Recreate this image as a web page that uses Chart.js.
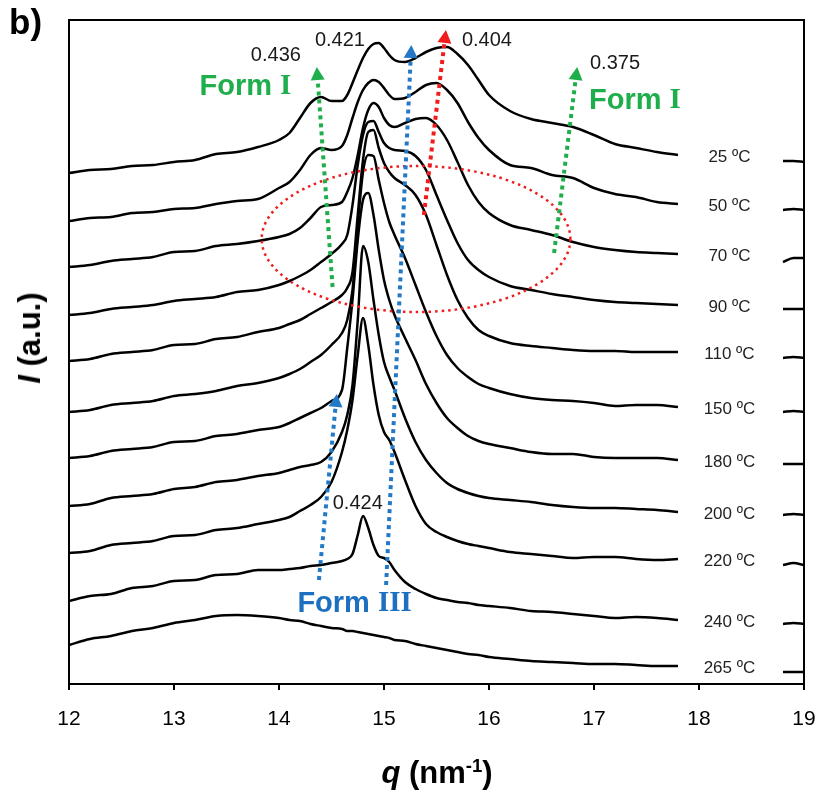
<!DOCTYPE html>
<html>
<head>
<meta charset="utf-8">
<script src="https://cdn.jsdelivr.net/npm/chart.js@4"></script>
<style>
  body { margin: 0; background: #fff; }
  #wrap { position: relative; width: 822px; height: 794px; }
  .t { position: absolute; font-family: Arial, "Liberation Sans", sans-serif; font-weight: bold; color: #000; white-space: nowrap; }
  #panel { left: 9px; top: 2px; font-size: 35px; }
  #xt { left: 337px; width: 200px; top: 755px; font-size: 31px; text-align: center; }
  #yt { left: 30px; top: 338px; font-size: 31px; transform: translate(-50%, -50%) rotate(-90deg); }
  sup { font-size: 60%; line-height: 0; }
</style>
</head>
<body>
<div id="wrap">
  <canvas id="c" width="822" height="794"></canvas>
  <div class="t" id="panel">b)</div>
  <div class="t" id="xt"><i>q</i> (nm<sup>-1</sup>)</div>
  <div class="t" id="yt"><i>I</i> (a.u.)</div>
</div>
<script>
// q grid (nm-1); null at 18.3 = hidden behind the label box
const q = [12.0,12.2,12.4,12.6,12.8,13.0,13.2,13.4,13.6,13.8,14.0,
  14.1,14.2,14.3,14.4,14.5,14.6,
  14.65,14.7,14.75,14.8,14.85,14.9,14.95,15.0,15.05,15.1,
  15.2,15.3,15.4,15.5,15.6,15.7,15.8,15.9,16.0,
  16.2,16.4,16.6,16.8,17.0,17.2,17.4,17.6,17.8,
  18.3,18.8,18.9,19.0];

// stacked intensities (a.u.), one per temperature
const i25 = [511,514,515,518,519,522,524,530,532,537, 544, 551,566,581,587,583,583, 589,601,614,626,635,640,641,636,629,624, 622,626,632,636,637,630,619,604,589, 573,565,561,557,549,540,536,532,529, null, 523,523,522];
const i50 = [463,466,467,471,472,475,476,480,483,485, 496, 502,514,529,536,534,538, 549,566,582,594,601,604,602,596,589,585, 586,592,599,601,594,581,562,546,534, 519,516,509,506,496,490,487,482,480, null, 474,475,474];
const i70 = [417,419,423,425,427,432,433,438,440,443, 447, 450,456,466,477,479,482, 492,506,529,556,574,581,577,566,559,557, 561,565,566,559,544,522,499,482,471, 459,454,449,442,437,434,432,431,430, null, 422,426,426];
const i90 = [369,371,375,377,379,383,385,387,392,394, 399, 403,408,414,422,430,440, 449,479,519,549,562,563,552,541,536,534, 533,528,514,489,464,441,424,414,407, 398,394,390,387,384,382,381,380,379, null, 375,375,375];
const i110 = [323,325,330,332,334,339,340,345,347,352, 356, 360,364,370,376,382,389, 396,412,469,524,552,554,536,521,512,506, 499,489,469,439,409,384,366,354,348, 341,338,336,334,333,333,332,332,332, null, 326,327,326];
const i150 = [272,274,279,281,283,288,290,293,298,301, 306, 310,315,322,329,339,351, 364,394,459,512,529,528,504,481,462,449, 426,399,372,348,329,316,307,300,296, 290,286,284,283,281,278,279,279,277, null, 272,273,272];
const i180 = [226,228,233,235,237,242,243,248,250,254, 257, 261,266,271,276,283,294, 336,384,444,484,491,469,434,404,384,369, 346,324,300,281,266,256,248,243,240, 236,232,230,230,227,226,226,226,224, null, 220,220,220];
const i200 = [178,180,186,188,190,195,197,202,204,208, 211, 214,217,219,222,232,252, 269,299,364,438,422,384,349,322,307,294, 266,242,224,211,201,195,191,188,186, 184,182,179,177,176,176,175,174,172, null, 169,170,169];
const i220 = [131,133,139,141,143,148,149,154,156,160, 164, 167,173,179,187,202,232, 254,284,329,366,339,299,269,252,244,232, 204,178,160,152,147,143,140,138,136, 132,130,128,126,127,127,125,124,125, null, 119,121,119];
const i240 = [83,88,90,96,98,103,104,109,110,114, 114, 115,116,118,119,121,123, 125,130,149,168,156,139,128,126,122,114, 102,95,90,86,84,82,81,79,78, 76,73,72,70,68,66,67,66,64, null, 60,61,60];
const i265 = [39,45,48,53,56,61,64,68,69,68, 66, 64,63,60,58,56,55, 53,53,52,51,50,49,48,47,46,44, 43,40,38,36,34,32,30,29,27, 25,23,22,21,20,20,19,18,18, null, 12,12,12];

const temps = ["25 ºC","50 ºC","70 ºC","90 ºC","110 ºC","150 ºC","180 ºC","200 ºC","220 ºC","240 ºC","265 ºC"];
const series = [i25,i50,i70,i90,i110,i150,i180,i200,i220,i240,i265];
const xTicks = [12,13,14,15,16,17,18,19];

// annotations, in data units (q, intensity)
const greenArrows = [[14.51,397,14.36,617],[16.62,431,16.84,617]];
const blueArrows = [[15.02,99,15.26,639],[14.38,104,14.55,290]];
const redArrows = [[15.38,469,15.59,654]];
const ellipse = [15.305,445,1.47,73]; // centre q, centre I, half-width q, half-height I
const spacings = [["0.436",13.97,629],["0.421",14.58,644],["0.404",15.98,644],["0.375",17.2,621],["0.424",14.75,181]];
const formsI = [[13.68,597],[17.39,583]];
const formIII = [14.72,80];
const labelQ = 18.29;
const endIdx = 44;

function arrow(ctx, x0, y0, x1, y1, color) {
  const a = Math.atan2(y1 - y0, x1 - x0);
  const hl = 13, hw = 7;
  ctx.strokeStyle = color;
  ctx.fillStyle = color;
  ctx.lineWidth = 4;
  ctx.setLineDash([4, 4]);
  ctx.beginPath();
  ctx.moveTo(x0, y0);
  ctx.lineTo(x1 - hl * Math.cos(a), y1 - hl * Math.sin(a));
  ctx.stroke();
  ctx.setLineDash([]);
  ctx.beginPath();
  ctx.moveTo(x1, y1);
  ctx.lineTo(x1 - hl * Math.cos(a) + hw * Math.sin(a), y1 - hl * Math.sin(a) - hw * Math.cos(a));
  ctx.lineTo(x1 - hl * Math.cos(a) - hw * Math.sin(a), y1 - hl * Math.sin(a) + hw * Math.cos(a));
  ctx.closePath();
  ctx.fill();
}

const annot = {
  id: "annot",
  afterDatasetsDraw(chart) {
    const { ctx, chartArea: ca, scales: { x, y } } = chart;
    const px = v => x.getPixelForValue(v);
    const py = v => y.getPixelForValue(v);
    ctx.save();

    // frame
    ctx.strokeStyle = "#000";
    ctx.lineWidth = 2;
    ctx.strokeRect(ca.left, ca.top, ca.right - ca.left, ca.bottom - ca.top);

    // red dotted ellipse
    ctx.strokeStyle = "#f01c1c";
    ctx.lineWidth = 2.5;
    ctx.setLineDash([2.5, 4]);
    ctx.beginPath();
    ctx.ellipse(px(ellipse[0]), py(ellipse[1]),
      px(ellipse[0] + ellipse[2]) - px(ellipse[0]),
      py(ellipse[1]) - py(ellipse[1] + ellipse[3]), 0, 0, 2 * Math.PI);
    ctx.stroke();
    ctx.setLineDash([]);

    greenArrows.forEach(a => arrow(ctx, px(a[0]), py(a[1]), px(a[2]), py(a[3]), "#1fae4c"));
    blueArrows.forEach(a => arrow(ctx, px(a[0]), py(a[1]), px(a[2]), py(a[3]), "#2379c6"));
    redArrows.forEach(a => arrow(ctx, px(a[0]), py(a[1]), px(a[2]), py(a[3]), "#f01c1c"));

    ctx.textAlign = "center";
    ctx.textBaseline = "middle";
    ctx.fillStyle = "#1a1a1a";
    ctx.font = "20px Arial, 'Liberation Sans', sans-serif";
    spacings.forEach(s => ctx.fillText(s[0], px(s[1]), py(s[2])));

    // "Form I" / "Form III"
    const formText = (num, qv, iv, color) => {
      const f1 = "bold 29px Arial, 'Liberation Sans', sans-serif";
      const f2 = "bold 29px 'Times New Roman', 'Liberation Serif', serif";
      ctx.font = f1;
      const w1 = ctx.measureText("Form ").width;
      ctx.font = f2;
      const w2 = ctx.measureText(num).width;
      const left = px(qv) - (w1 + w2) / 2;
      ctx.fillStyle = color;
      ctx.textAlign = "left";
      ctx.font = f1;
      ctx.fillText("Form ", left, py(iv));
      ctx.font = f2;
      ctx.fillText(num, left + w1, py(iv));
    };
    formsI.forEach(f => formText("I", f[0], f[1], "#1fae4c"));
    formText("III", formIII[0], formIII[1], "#1d6fc0");

    // temperature labels
    ctx.textAlign = "center";
    ctx.fillStyle = "#222";
    ctx.font = "17px Arial, 'Liberation Sans', sans-serif";
    temps.forEach((t, k) => ctx.fillText(t, px(labelQ), py(series[k][endIdx]) + 2));
    ctx.restore();
  }
};

new Chart(document.getElementById("c"), {
  type: "line",
  data: {
    datasets: series.map((s, k) => ({
      label: temps[k],
      data: q.map((v, i) => ({ x: v, y: s[i] })),
      borderColor: "#000",
      borderWidth: 2.5,
      pointRadius: 0,
      cubicInterpolationMode: "monotone",
      spanGaps: false
    }))
  },
  options: {
    responsive: false,
    animation: false,
    layout: { padding: { left: 69, right: 18, top: 20, bottom: 0 } },
    plugins: { legend: { display: false }, tooltip: { enabled: false } },
    scales: {
      x: {
        type: "linear",
        min: 12, max: 19,
        afterBuildTicks: ax => { ax.ticks = xTicks.map(v => ({ value: v })); },
        afterFit: ax => { ax.height = 110; ax.paddingLeft = 0; ax.paddingRight = 0; },
        ticks: { color: "#000", padding: 17, font: { size: 21, family: "Arial, 'Liberation Sans', sans-serif" } },
        grid: { drawOnChartArea: false, drawTicks: true, tickLength: 6, color: "#000", lineWidth: 2 },
        border: { display: true, color: "#000", width: 2 }
      },
      y: { display: false, min: 0, max: 664 }
    }
  },
  plugins: [annot]
});
</script>
</body>
</html>
